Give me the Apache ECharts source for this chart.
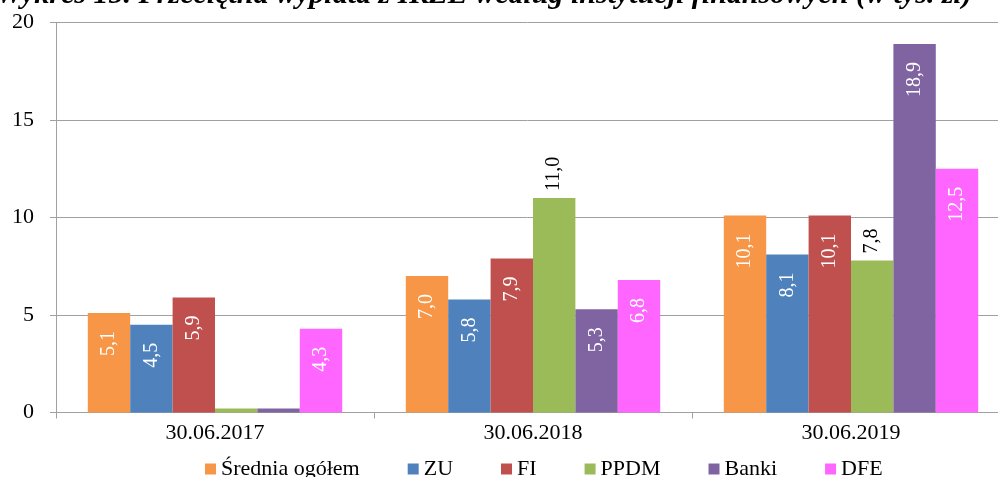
<!DOCTYPE html>
<html>
<head>
<meta charset="utf-8">
<script src="https://cdn.jsdelivr.net/npm/echarts@6/dist/echarts.min.js"></script>
<style>
  html, body { margin: 0; padding: 0; background: #fff; }
  #chart { width: 998px; height: 477px; }
</style>
</head>
<body>
<div id="chart"></div>
<script>
// dane z wykresu (w tys. zł)
var categories = ["30.06.2017", "30.06.2018", "30.06.2019"];
var seriesNames = ["Średnia ogółem", "ZU", "FI", "PPDM", "Banki", "DFE"];
var srednia = [5.1, 7.0, 10.1];
var zu = [4.5, 5.8, 8.1];
var fi = [5.9, 7.9, 10.1];
var ppdm = [0.2, 11.0, 7.8];
var banki = [0.2, 5.3, 18.9];
var dfe = [4.3, 6.8, 12.5];
var yTicks = [0, 5, 10, 15, 20];
var colors = ["#F79646", "#4F81BD", "#C0504D", "#9BBB59", "#8064A2", "#FF66FF"];
// etykiety: "in" = biała w słupku, "out" = czarna nad słupkiem, "" = brak
var labelPos = [
  ["in", "in", "in"],
  ["in", "in", "in"],
  ["in", "in", "in"],
  ["", "out", "out"],
  ["", "in", "in"],
  ["in", "in", "in"]
];
var title = "Wykres 15. Przeciętna wypłata z IKZE według instytucji finansowych (w tys. zł)";

var font = "Liberation Serif";

function fmt(v) {
  return v.toFixed(1).replace(".", ",");
}

var labelIn = {
  show: true,
  position: "insideTop",
  rotate: 90,
  align: "right",
  verticalAlign: "middle",
  distance: 18,
  color: "#fff",
  fontSize: 20,
  fontFamily: font,
  formatter: function (p) { return fmt(p.value); }
};
var labelOut = {
  show: true,
  position: "top",
  rotate: 90,
  align: "left",
  verticalAlign: "middle",
  distance: 7,
  color: "#000",
  fontSize: 20,
  fontFamily: font,
  formatter: function (p) { return fmt(p.value); }
};

var allData = [srednia, zu, fi, ppdm, banki, dfe];
var series = allData.map(function (arr, i) {
  return {
    name: seriesNames[i],
    type: "bar",
    barGap: 0,
    barCategoryGap: "20%",
    itemStyle: { color: colors[i] },
    data: arr.map(function (v, j) {
      var pos = labelPos[i][j];
      var lab = pos === "in" ? labelIn : pos === "out" ? labelOut : { show: false };
      return { value: v, label: lab };
    })
  };
});

var myChart = echarts.init(document.getElementById("chart"));
var option = {
  animation: false,
  color: colors,
  textStyle: { fontFamily: font },
  // tytuł jest ucięty u góry, widać tylko dolną część
  graphic: [
    {
      type: "text",
      left: -4,
      top: -20,
      style: {
        text: title,
        font: "italic bold 30px 'Liberation Serif'",
        fill: "#000"
      }
    }
  ],
  legend: {
    data: seriesNames,
    left: 205,
    top: 458,
    padding: 0,
    itemWidth: 11,
    itemHeight: 11,
    itemGap: 48,
    icon: "rect",
    textStyle: { fontSize: 22, fontFamily: font, color: "#000" }
  },
  // obszar wykresu wychodzi poza prawą krawędź
  grid: {
    left: 56,
    width: 954,
    top: 22.5,
    bottom: 64.5,
    outerBoundsMode: "none"
  },
  xAxis: {
    type: "category",
    data: categories,
    axisLine: { lineStyle: { color: "#a0a0a0", width: 1 } },
    axisTick: { show: true, length: 6, lineStyle: { color: "#a0a0a0" } },
    axisLabel: { margin: 10, fontSize: 22, fontFamily: font, color: "#000" },
    splitLine: { show: false }
  },
  yAxis: {
    type: "value",
    min: yTicks[0],
    max: yTicks[yTicks.length - 1],
    interval: 5,
    axisLine: { show: true, lineStyle: { color: "#a0a0a0", width: 1 } },
    axisTick: { show: true, inside: false, length: 6, lineStyle: { color: "#a0a0a0" } },
    axisLabel: { margin: 22, fontSize: 22, fontFamily: font, color: "#000" },
    splitLine: { show: true, lineStyle: { color: "#a0a0a0", width: 1 } }
  },
  series: series
};
myChart.setOption(option);
</script>
</body>
</html>
